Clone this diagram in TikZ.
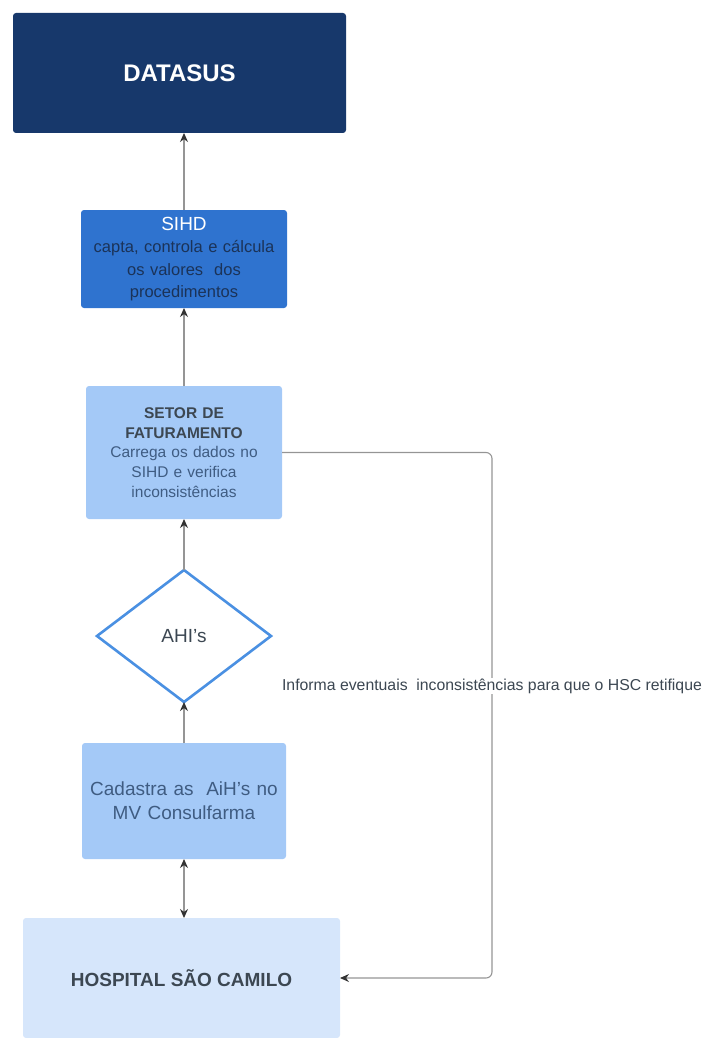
\documentclass[tikz,border=0pt]{standalone}
\usepackage{fontspec}
\setmainfont{Liberation Sans}
\usepackage{tikz}
\usetikzlibrary{arrows.meta,positioning,shapes.geometric}

\definecolor{navyFill}{HTML}{17386B}
\definecolor{sihdFill}{HTML}{2F73CF}
\definecolor{lightFill}{HTML}{A4C9F7}
\definecolor{paleFill}{HTML}{D6E6FB}
\definecolor{diamondLine}{HTML}{4A90E2}
\definecolor{linkGray}{HTML}{959595}
\definecolor{tipGray}{HTML}{333333}
\definecolor{navyText}{HTML}{1B3358}
\definecolor{slateText}{HTML}{3C4752}
\definecolor{blueText}{HTML}{3F5C82}

\begin{document}
\begin{tikzpicture}
[ x=1pt, y=-1pt,
		box/.style={rectangle,rounded corners=3pt,inner sep=0pt,outer sep=0pt,align=center},
		topbox/.style={box,fill=navyFill,minimum width=333pt,minimum height=120pt,text=white,font=\fontsize{24}{28}\selectfont\bfseries},
		sysbox/.style={box,fill=sihdFill,minimum width=206pt,minimum height=98pt,text width=200pt,text=navyText,font=\fontsize{16.5}{22.5}\selectfont},
		taskbox/.style={box,fill=lightFill,text=blueText},
		basebox/.style={box,fill=paleFill,minimum width=317pt,minimum height=120pt,text=slateText,font=\fontsize{19}{23}\selectfont\bfseries},
		decision/.style={diamond,draw=diamondLine,line width=2.6pt,fill=white,aspect=1.32,minimum width=174pt,minimum height=132pt,inner sep=0pt,outer sep=0pt,text=slateText,font=\fontsize{19}{23}\selectfont},
		arrowUp/.style={-{Stealth[length=9pt,width=8pt,color=tipGray]},line width=1.2pt,draw=linkGray},
		arrowBoth/.style={{Stealth[length=9pt,width=8pt,color=tipGray]}-{Stealth[length=9pt,width=8pt,color=tipGray]},line width=1.2pt,draw=linkGray},
		feedback/.style={-{Stealth[length=9pt,width=8pt,color=tipGray]},line width=1.1pt,draw=linkGray,rounded corners=6pt},
		note/.style={fill=white,inner sep=1pt,text=slateText,font=\fontsize{15.8}{18}\selectfont}]

	\useasboundingbox (0,0) rectangle (710,1038);

	\node[topbox] (datasus) at (179.5,73) {DATASUS};
	\node[sysbox] (sihd) [below=77pt of datasus, xshift=4.5pt]
		{{\fontsize{19}{23}\selectfont\color{white}SIHD}\\capta, controla e cálcula\\os valores\ \ dos\\procedimentos};
	\node[taskbox,minimum width=196pt,minimum height=133pt,text width=190pt,font=\fontsize{15.5}{19.8}\selectfont] (faturamento) [below=78pt of sihd]
		{{\color{slateText}\bfseries SETOR DE}\\{\color{slateText}\bfseries FATURAMENTO}\\Carrega os dados no\\SIHD e verifica\\inconsistências};
	\node[decision] (ahis) [below=51pt of faturamento] {AHI's};
	\node[taskbox,minimum width=204pt,minimum height=116pt,text width=200pt,font=\fontsize{19}{24}\selectfont] (cadastro) [below=41pt of ahis]
		{Cadastra as\ \ AiH's no\\MV Consulfarma\\[4pt]};
	\node[basebox] (hospital) [below=59pt of cadastro, xshift=-2.5pt] {HOSPITAL\ SÃO CAMILO};

	\coordinate (bend) at (492,686);

	\draw[arrowUp] (sihd.north) -- (sihd.north |- datasus.south);
	\draw[arrowUp] (faturamento) -- (sihd);
	\draw[arrowUp] (ahis) -- (faturamento);
	\draw[arrowUp] (cadastro) -- (ahis);
	\draw[arrowBoth] (cadastro.south) -- (cadastro.south |- hospital.north);
	\draw[feedback] (faturamento.east) -| (bend) |- (hospital.east);
	\node[note] (aviso) at (bend) {Informa eventuais\ \ inconsistências para que o HSC retifique};
\end{tikzpicture}
\end{document}
